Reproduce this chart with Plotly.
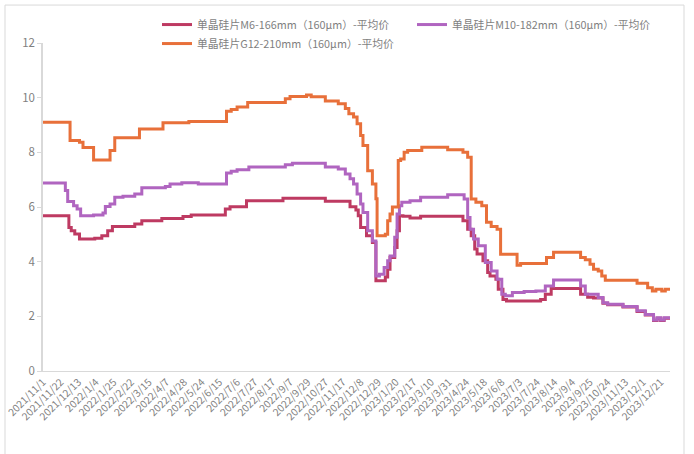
import plotly.graph_objects as go

# Tick labels (every 15 trading days)
tick_labels = ["2021/11/1", "2021/11/22", "2021/12/13", "2022/1/4", "2022/1/25", "2022/2/22",
               "2022/3/15", "2022/4/7", "2022/4/28", "2022/5/24", "2022/6/15", "2022/7/6",
               "2022/7/27", "2022/8/17", "2022/9/7", "2022/9/29", "2022/10/27", "2022/11/17",
               "2022/12/8", "2022/12/29", "2023/1/20", "2023/2/17", "2023/3/10", "2023/3/31",
               "2023/4/24", "2023/5/18", "2023/6/8", "2023/7/3", "2023/7/24", "2023/8/14",
               "2023/9/4", "2023/9/25", "2023/10/24", "2023/11/13", "2023/12/1", "2023/12/21"]
tick_step = 15

# Step series: trading-day index where price changes, and the new price
m6_idx = [0, 22, 24, 27, 31, 44, 50, 55, 59, 78, 84, 101, 119, 126, 155, 159, 173, 204, 240,
          261, 266, 268, 270, 275, 280, 283, 291, 293, 295, 299, 301, 303, 306, 312, 321, 357,
          361, 364, 367, 369, 374, 378, 380, 385, 387, 391, 394, 423, 427, 432, 457, 463, 468,
          476, 480, 493, 505, 512, 519, 522, 525, 528, 533]
m6_val = [5.68, 5.25, 5.13, 5.01, 4.83, 4.86, 4.95, 5.13, 5.29, 5.38, 5.50, 5.58, 5.65, 5.71,
          5.93, 6.01, 6.23, 6.32, 6.21, 6.01, 5.89, 5.68, 5.25, 4.95, 4.70, 3.30, 3.44, 3.72,
          4.15, 4.52, 5.13, 5.68, 5.66, 5.60, 5.66, 5.50, 5.19, 4.95, 4.46, 4.28, 4.03, 3.60,
          3.48, 3.36, 2.99, 2.62, 2.56, 2.62, 2.81, 3.02, 2.81, 2.70, 2.67, 2.48, 2.42, 2.34,
          2.18, 2.05, 1.85, 1.93, 1.85, 1.93, 1.93]

m10_idx = [0, 19, 21, 26, 29, 32, 43, 51, 53, 57, 61, 68, 78, 84, 104, 108, 118, 132, 156, 160,
           165, 175, 206, 212, 240, 251, 257, 261, 264, 267, 270, 272, 276, 280, 283, 286, 290,
           293, 295, 299, 301, 303, 305, 312, 321, 344, 358, 361, 363, 366, 370, 376, 381, 386,
           390, 393, 399, 409, 419, 427, 434, 457, 461, 472, 476, 480, 493, 505, 512, 519, 522,
           525, 528, 533]
m10_val = [6.88, 6.60, 6.20, 6.05, 5.93, 5.68, 5.71, 5.78, 6.02, 6.11, 6.36, 6.39, 6.48, 6.70,
           6.75, 6.84, 6.89, 6.84, 7.24, 7.31, 7.36, 7.46, 7.55, 7.60, 7.46, 7.39, 7.21, 7.03,
           6.84, 6.48, 6.11, 5.80, 5.13, 4.76, 3.48, 3.54, 3.79, 4.03, 4.21, 4.89, 5.74, 6.05,
           6.17, 6.23, 6.36, 6.45, 6.29, 5.62, 5.19, 4.83, 4.58, 3.97, 3.66, 3.36, 2.81, 2.75,
           2.87, 2.91, 2.93, 3.11, 3.33, 3.11, 2.81, 2.69, 2.50, 2.44, 2.36, 2.20, 2.07, 1.87,
           1.95, 1.87, 1.95, 1.95]

g12_idx = [0, 23, 31, 34, 43, 57, 61, 82, 102, 124, 156, 160, 165, 174, 206, 210, 224, 228, 240,
           251, 257, 260, 264, 267, 270, 272, 276, 280, 283, 284, 291, 293, 295, 297, 302, 304,
           307, 310, 322, 344, 357, 361, 364, 368, 373, 377, 381, 386, 389, 403, 406, 428, 434,
           457, 461, 465, 468, 472, 475, 478, 505, 514, 518, 521, 526, 529, 533]
g12_val = [9.10, 8.43, 8.37, 8.18, 7.72, 8.07, 8.53, 8.85, 9.08, 9.13, 9.50, 9.57, 9.66, 9.82,
           9.96, 10.04, 10.10, 10.03, 9.88, 9.78, 9.60, 9.41, 9.29, 9.05, 8.62, 8.25, 7.33, 6.84,
           6.30, 4.95, 5.00, 5.50, 5.74, 6.00, 7.70, 7.76, 8.00, 8.07, 8.19, 8.09, 8.00, 7.82,
           6.29, 6.17, 6.05, 5.44, 5.29, 5.19, 4.27, 3.87, 3.93, 4.15, 4.34, 4.15, 4.07, 3.91,
           3.72, 3.66, 3.48, 3.32, 3.21, 3.05, 2.93, 2.99, 2.93, 2.99, 2.99]

names = ["单晶硅片M6-166mm（160μm）-平均价",
         "单晶硅片M10-182mm（160μm）-平均价",
         "单晶硅片G12-210mm（160μm）-平均价"]
colors = ["#BE3A62", "#B065C0", "#E8703A"]

fig = go.Figure()
for idx, val, nm, col in [(m6_idx, m6_val, names[0], colors[0]),
                          (m10_idx, m10_val, names[1], colors[1]),
                          (g12_idx, g12_val, names[2], colors[2])]:
    fig.add_trace(go.Scatter(x=idx, y=val, mode="lines", name=nm,
                             line=dict(color=col, width=3, shape="hv")))

W, H = 694, 454
L, R, T, B = 43, 24, 43, 82.5
pw, ph = W - L - R, H - T - B

def px_x(p):
    return (p - L) / pw

def px_y(p):
    return (H - B - p) / ph

tickvals = [i * tick_step for i in range(len(tick_labels))]

fig.update_layout(
    width=W, height=H,
    margin=dict(l=L, r=R, t=T, b=B, autoexpand=False),
    paper_bgcolor="white", plot_bgcolor="white",
    font=dict(family="Noto Sans CJK SC, sans-serif", color="#7f7f7f", size=11),
    showlegend=True,
    legend=dict(orientation="h", x=px_x(157), y=px_y(10), xanchor="left", yanchor="top",
                entrywidth=210, entrywidthmode="pixels",
                font=dict(size=10.8, color="#7f7f7f"), bgcolor="rgba(0,0,0,0)",
                tracegroupgap=0, itemwidth=30),
    xaxis=dict(range=[0, 533], tickmode="array", tickvals=tickvals, ticktext=tick_labels,
               tickangle=-45, showgrid=False, zeroline=False, showline=True,
               linecolor="#d9d9d9", linewidth=1, ticks="", tickfont=dict(size=10.3, color="#7f7f7f")),
    yaxis=dict(range=[0, 12], dtick=2, showgrid=False, zeroline=False, showline=True,
               linecolor="#d9d9d9", linewidth=1.5, ticks="outside", ticklen=4, tickcolor="#d9d9d9",
               tickfont=dict(size=11.5, color="#7f7f7f")),
    shapes=[dict(type="rect", xref="paper", yref="paper",
                 x0=px_x(5), x1=px_x(684), y0=px_y(470), y1=px_y(5),
                 line=dict(color="#d9d9d9", width=1), fillcolor="rgba(0,0,0,0)", layer="below")],
)

fig.write_html("out.html", config={"displayModeBar": False},
               post_script="document.body.style.margin='0px';document.body.style.overflow='hidden';")
